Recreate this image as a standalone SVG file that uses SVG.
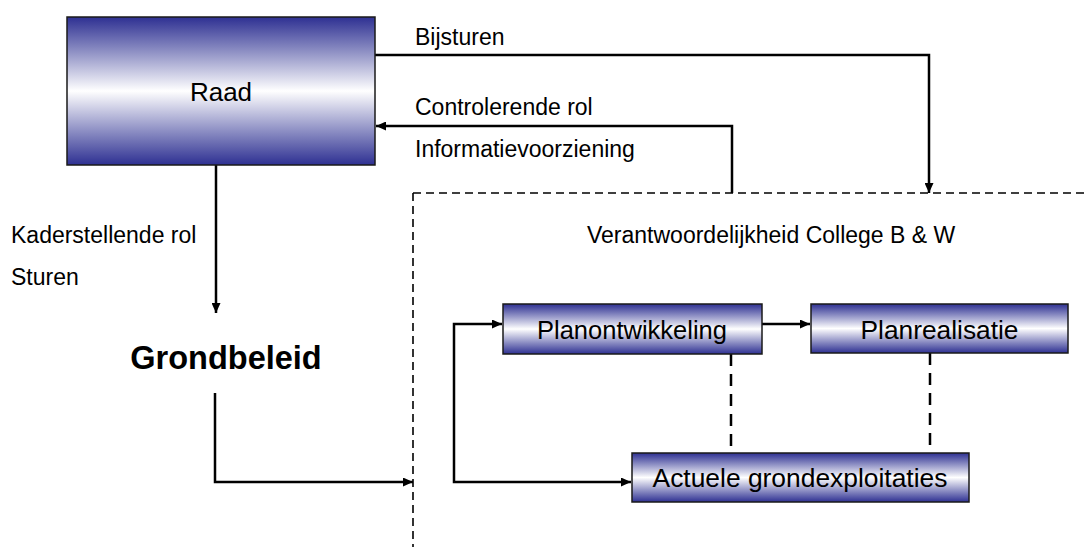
<svg xmlns="http://www.w3.org/2000/svg" width="1089" height="547" viewBox="0 0 1089 547">
<style>
text{font-family:"Liberation Sans",Arial,sans-serif;fill:#000}
.lbl{font-size:23px}
.box{fill:url(#g);stroke:#1a1a1a;stroke-width:1.5}
.bt{font-size:26px;text-anchor:middle}
.con{fill:none;stroke:#000;stroke-width:2.5}
.dash{fill:none;stroke:#000;stroke-width:2.5;stroke-dasharray:12 8}
.bound{fill:none;stroke:#000;stroke-width:1.6;stroke-dasharray:8 5}
</style>
<defs>
<linearGradient id="g" x1="0" y1="0" x2="0" y2="1">
<stop offset="0" stop-color="#2e3092"/>
<stop offset="0.2" stop-color="#8082bd"/>
<stop offset="0.5" stop-color="#ffffff"/>
<stop offset="0.8" stop-color="#8082bd"/>
<stop offset="1" stop-color="#2e3092"/>
</linearGradient>
<marker id="a" markerUnits="userSpaceOnUse" markerWidth="10" markerHeight="9" refX="10" refY="4.5" orient="auto-start-reverse">
<path d="M0,0 L10,4.5 L0,9 z" fill="#000"/>
</marker>
</defs>
<rect width="1089" height="547" fill="#fff"/>
<g id="boundary">
<path class="bound" d="M413,193 H1089 M413,193 V547"/>
<text class="lbl" x="587" y="243">Verantwoordelijkheid College B &amp; W</text>
</g>
<g id="connectors">
<path class="con" d="M375,55 H929 V193" marker-end="url(#a)"/>
<path class="con" d="M732,193 V126 H376" marker-end="url(#a)"/>
<path class="con" d="M216,165 V313" marker-end="url(#a)"/>
<path class="con" d="M215,393 V482 H413" marker-end="url(#a)"/>
<path class="con" d="M502,324 H454 V482 H631" marker-start="url(#a)" marker-end="url(#a)"/>
<path class="con" d="M762,324 H810" marker-end="url(#a)"/>
<path class="dash" d="M731,354 V453 M930,353 V453"/>
<text class="lbl" x="415" y="45">Bijsturen</text>
<text class="lbl" x="415" y="115">Controlerende rol</text>
<text class="lbl" x="415" y="157">Informatievoorziening</text>
<text class="lbl" x="11" y="243">Kaderstellende rol</text>
<text class="lbl" x="11" y="285">Sturen</text>
</g>
<g id="raad">
<rect class="box" x="67" y="17" width="308" height="148"/>
<text x="221" y="101" style="font-size:26px;text-anchor:middle">Raad</text>
</g>
<g id="grondbeleid">
<text x="226" y="369" style="font-size:32.5px;font-weight:bold;text-anchor:middle">Grondbeleid</text>
</g>
<g id="planontwikkeling">
<rect class="box" x="503" y="304" width="259" height="50"/>
<text class="bt" x="632" y="339" style="font-size:25.5px">Planontwikkeling</text>
</g>
<g id="planrealisatie">
<rect class="box" x="811" y="304" width="257" height="49"/>
<text class="bt" x="939.5" y="339" style="font-size:26.3px">Planrealisatie</text>
</g>
<g id="actuele">
<rect class="box" x="632" y="453" width="337" height="49"/>
<text class="bt" x="800" y="487" style="font-size:26.4px">Actuele grondexploitaties</text>
</g>
</svg>
